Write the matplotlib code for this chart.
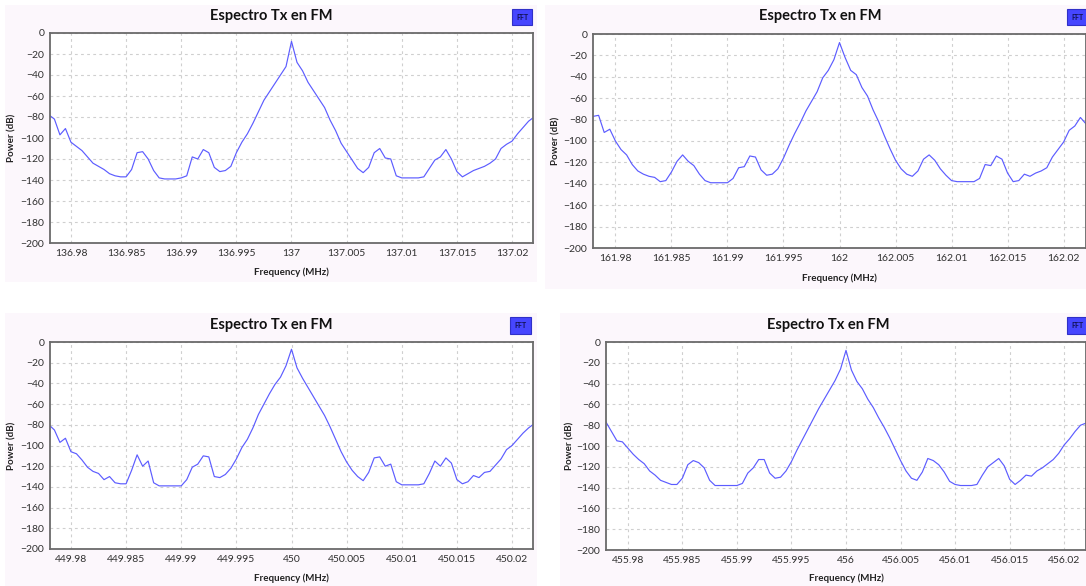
import numpy as np
import matplotlib
matplotlib.use('Agg')
import matplotlib.pyplot as plt
from matplotlib.patches import Rectangle

W, H = 1086, 586

# FFT bin offsets from the carrier, in kHz
offsets_khz = np.arange(-22, 22.5, 0.5)

centers_mhz = [137, 162, 450, 456]

power_137 = [-78, -82, -97, -91, -104, -108, -112, -118, -124, -127,
             -130, -134, -136, -137, -137, -130, -114, -113, -120, -131,
             -138, -139, -139, -139, -138, -136, -118, -120, -111, -114,
             -128, -132, -131, -127, -114, -104, -96, -86, -75, -64,
             -56, -48, -40, -32, -8,
             -28, -36, -47, -55, -63, -71, -83, -93, -105, -113,
             -121, -129, -133, -128, -114, -110, -119, -120, -136, -138,
             -138, -138, -138, -137, -129, -121, -118, -111, -120, -132,
             -137, -134, -131, -129, -127, -124, -120, -110, -106, -103,
             -96, -90, -84, -80]

power_162 = [-77, -76, -92, -89, -100, -108, -113, -122, -128, -131,
             -133, -134, -138, -137, -129, -119, -113, -119, -123, -131,
             -137, -139, -139, -139, -139, -135, -125, -124, -114, -115,
             -127, -132, -131, -126, -116, -104, -93, -83, -72, -63,
             -54, -41, -34, -24, -8,
             -22, -34, -38, -50, -58, -71, -82, -95, -107, -118,
             -126, -131, -133, -128, -117, -113, -118, -126, -132, -137,
             -138, -138, -138, -138, -135, -122, -123, -114, -117, -130,
             -138, -137, -131, -133, -130, -128, -125, -115, -108, -101,
             -90, -86, -78, -84]

power_450 = [-80, -85, -97, -93, -106, -108, -114, -121, -125, -127,
             -133, -130, -136, -137, -137, -124, -109, -120, -115, -136,
             -139, -139, -139, -139, -139, -133, -121, -118, -110, -111,
             -130, -131, -128, -122, -113, -102, -94, -83, -70, -60,
             -50, -41, -34, -23, -7,
             -25, -35, -44, -53, -62, -71, -82, -94, -106, -116,
             -124, -130, -134, -126, -112, -111, -120, -118, -135, -138,
             -138, -138, -138, -137, -127, -115, -120, -112, -117, -133,
             -137, -135, -129, -131, -126, -125, -119, -113, -104, -100,
             -94, -88, -83, -79]

power_456 = [-77, -86, -95, -96, -102, -108, -113, -117, -124, -128,
             -133, -135, -137, -137, -131, -118, -114, -116, -121, -133,
             -138, -138, -138, -138, -138, -136, -126, -121, -113, -113,
             -126, -131, -130, -124, -115, -104, -94, -84, -74, -64,
             -55, -46, -37, -26, -8,
             -27, -38, -45, -55, -63, -73, -82, -92, -103, -114,
             -124, -131, -133, -125, -112, -114, -118, -125, -134, -137,
             -138, -138, -138, -137, -128, -120, -116, -112, -119, -132,
             -137, -133, -128, -129, -124, -121, -117, -113, -107, -99,
             -93, -86, -80, -78]

traces = [power_137, power_162, power_450, power_456]

y_ticks = list(range(0, -201, -20))
x_tick_khz = [-20, -15, -10, -5, 0, 5, 10, 15, 20]

title = 'Espectro Tx en FM'
xlabel = 'Frequency (MHz)'
ylabel = 'Power (dB)'

# layout in pixels: panel box, axes box, half span (kHz), title pos, badge box, ylabel x, xlabel y
layout = [
    dict(panel=(5, 5, 537, 282), axes=(50, 33, 533, 243), span=21.9, tx=271, ty=16,
         badge=(512, 9, 532, 25), ylx=12, xly=272),
    dict(panel=(545, 5, 1086, 289), axes=(593, 34, 1086, 248), span=22.0, tx=820, ty=16,
         badge=(1067, 9, 1087, 25), ylx=556, xly=278),
    dict(panel=(5, 313, 537, 586), axes=(50, 342, 533, 549), span=21.9, tx=271, ty=325,
         badge=(510, 317, 531, 334), ylx=12, xly=578),
    dict(panel=(560, 313, 1086, 586), axes=(606, 342, 1086, 550), span=22.0, tx=828, ty=325,
         badge=(1067, 317, 1087, 334), ylx=570, xly=578),
]

plt.rcParams['font.family'] = ['Lato', 'DejaVu Sans']

fig = plt.figure(figsize=(W / 100, H / 100), dpi=100)
fig.patch.set_facecolor('white')


def frac_rect(box):
    x0, y0, x1, y1 = box
    return [x0 / W, 1 - y1 / H, (x1 - x0) / W, (y1 - y0) / H]


def fmt_freq(v):
    return f"{v:.3f}".rstrip('0').rstrip('.')


for lay, center, power in zip(layout, centers_mhz, traces):
    px0, py0, px1, py1 = lay['panel']
    fig.patches.append(Rectangle((px0 / W, 1 - py1 / H), (px1 - px0) / W, (py1 - py0) / H,
                                 transform=fig.transFigure, facecolor='#fcf7fc',
                                 edgecolor='none', zorder=-10))

    ax = fig.add_axes(frac_rect(lay['axes']))
    ax.set_zorder(1)
    ax.set_facecolor('white')
    freq = center + offsets_khz / 1000.0
    ax.plot(freq, power, color='#5c5cff', lw=0.85)

    span = lay['span'] / 1000.0
    ax.set_xlim(center - span, center + span)
    ax.set_ylim(-200, 0)
    ax.set_yticks(y_ticks)
    xt = [center + k / 1000.0 for k in x_tick_khz]
    ax.set_xticks(xt)
    ax.set_xticklabels([fmt_freq(v) for v in xt])
    ax.tick_params(length=0, labelsize=7.5, colors='#303030', pad=4)
    ax.grid(True, color='#cfcfcf', linestyle=(0, (2.5, 3)), lw=0.8)
    for side, sp in ax.spines.items():
        sp.set_color('#6a6a6a')
        sp.set_linewidth(1.3)

    ax0, ay0, ax1, ay1 = lay['axes']
    fig.text(lay['tx'] / W, 1 - lay['ty'] / H, title, ha='center', va='center',
             fontsize=10.5, fontweight='bold', color='#111111')
    fig.text(lay['ylx'] / W, 1 - (ay0 + ay1) / 2 / H, ylabel, ha='center', va='center',
             rotation=90, fontsize=7, fontweight='bold', color='#222222')
    fig.text((ax0 + ax1) / 2 / W, 1 - lay['xly'] / H, xlabel, ha='center', va='center',
             fontsize=7, fontweight='bold', color='#222222')

    bx0, by0, bx1, by1 = lay['badge']
    fig.patches.append(Rectangle((bx0 / W, 1 - by1 / H), (bx1 - bx0) / W, (by1 - by0) / H,
                                 transform=fig.transFigure, facecolor='#4646ff',
                                 edgecolor='#3030c8', lw=0.8, zorder=5))
    fig.text((bx0 + bx1) / 2 / W, 1 - (by0 + by1) / 2 / H, 'FFT', ha='center', va='center',
             fontsize=5, fontweight='bold', color='#101050', zorder=6)

fig.savefig('out.png', dpi=100, facecolor=fig.get_facecolor())
